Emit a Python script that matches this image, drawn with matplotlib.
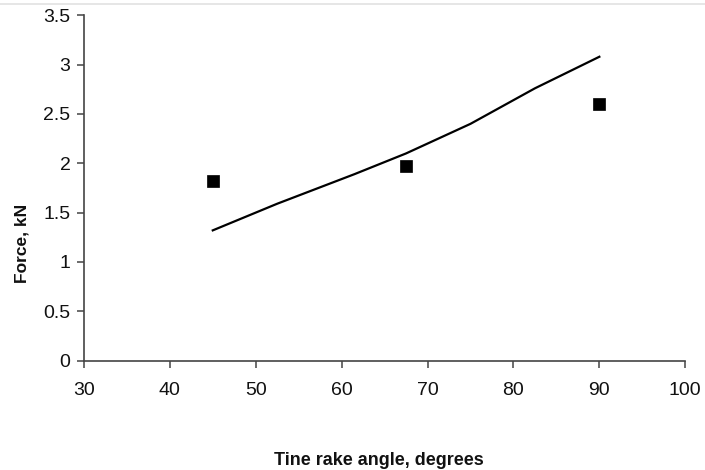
import matplotlib
matplotlib.use("Agg")
import matplotlib.pyplot as plt
from matplotlib.lines import Line2D

plt.rcParams['font.family'] = ['Liberation Sans', 'DejaVu Sans']

# Measured data (squares)
meas_angle = [45, 67.5, 90]
meas_force = [1.82, 1.97, 2.60]

# Predicted curve (line)
pred_angle = [45, 52.5, 61.5, 67.5, 75, 82.5, 90]
pred_force = [1.32, 1.59, 1.89, 2.10, 2.40, 2.76, 3.08]

x_ticks = [30, 40, 50, 60, 70, 80, 90, 100]
y_ticks = [0, 0.5, 1, 1.5, 2, 2.5, 3, 3.5]
y_tick_labels = ['0', '0.5', '1', '1.5', '2', '2.5', '3', '3.5']

fig = plt.figure(figsize=(7.05, 4.70), dpi=100)
ax = fig.add_axes([0.119, 0.2328, 0.853, 0.7346])

ax.plot(pred_angle, pred_force, color='black', linewidth=1.6)
ax.plot(meas_angle, meas_force, linestyle='none', marker='s', markersize=8,
        markeredgewidth=0.5, color='black')

ax.set_xlim(30, 100)
ax.set_ylim(0, 3.5)
ax.set_xticks(x_ticks)
ax.set_xticklabels([str(t) for t in x_ticks])
ax.set_yticks(y_ticks)
ax.set_yticklabels(y_tick_labels)

for s in ['top', 'right']:
    ax.spines[s].set_visible(False)
for s in ['left', 'bottom']:
    ax.spines[s].set_color('#444444')
    ax.spines[s].set_linewidth(1.2)

ax.tick_params(axis='both', direction='out', length=4.7, width=1.1,
               color='#444444', labelsize=14, labelcolor='#111111')
ax.tick_params(axis='x', pad=11)
ax.tick_params(axis='y', pad=5)

fig.text(0.538, 0.0106, 'Tine rake angle, degrees', ha='center', va='baseline',
         fontsize=13, fontweight='bold', color='#111111')
fig.text(0.031, 0.483, 'Force, kN', ha='center', va='center', rotation=90,
         fontsize=12.5, fontweight='bold', color='#111111')

fig.add_artist(Line2D([0, 1], [0.991, 0.991], transform=fig.transFigure,
                      color='#e2e2e2', linewidth=1.2))

fig.savefig('out.png', dpi=100)
